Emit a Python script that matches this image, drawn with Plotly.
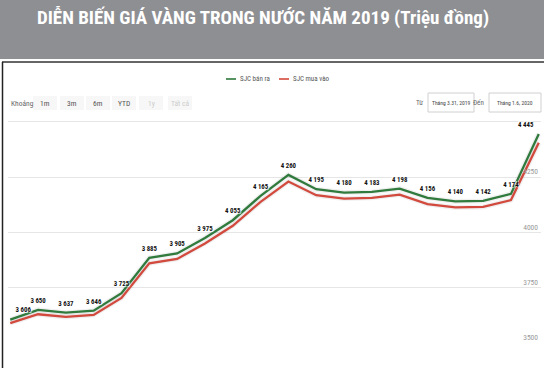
import plotly.graph_objects as go

# ---- data ----
dates = ["2019-03-31", "2019-04-15", "2019-04-30", "2019-05-15", "2019-05-30",
         "2019-06-14", "2019-06-29", "2019-07-14", "2019-07-29", "2019-08-13",
         "2019-08-28", "2019-09-12", "2019-09-27", "2019-10-12", "2019-10-27",
         "2019-11-11", "2019-11-26", "2019-12-11", "2019-12-26", "2020-01-06"]
sell = [3606, 3650, 3637, 3646, 3725, 3885, 3905, 3975, 4055, 4165,
        4260, 4195, 4180, 4183, 4198, 4156, 4140, 4142, 4174, 4445]
buy = [3590, 3630, 3618, 3627, 3704, 3860, 3880, 3950, 4030, 4138,
       4230, 4168, 4153, 4156, 4171, 4128, 4113, 4115, 4146, 4405]
y_ticks = [3500, 3750, 4000, 4250, 4500]
title_text = "DIỄN BIẾN GIÁ VÀNG TRONG NƯỚC NĂM 2019 (Triệu đồng)"
legend_names = ["SJC bán ra", "SJC mua vào"]
range_buttons = ["1m", "3m", "6m", "YTD", "1y", "Tất cả"]
range_active = [True, True, True, True, False, False]
date_from = "Tháng 3.31, 2019"
date_to = "Tháng 1.6, 2020"

GREEN = "#2f7a3c"
RED = "#d2493d"
W, H = 544, 368
L, R, T, B = 8, 541, 120, 343  # plot area in pixels


def px(x):
    return (x - L) / (R - L)


def py(y):
    return (B - y) / (B - T)


def fmt(v):
    return f"{v:,}".replace(",", " ")


narrow = "Liberation Sans Narrow, Roboto Condensed, DejaVu Sans Condensed, Arial"

fig = go.Figure()
# soft shadows
for s in (buy, sell):
    fig.add_trace(go.Scatter(x=dates, y=s, mode="lines",
                             line=dict(color="rgba(0,0,0,0.06)", width=5),
                             hoverinfo="skip", showlegend=False))
fig.add_trace(go.Scatter(x=dates, y=buy, mode="lines", name=legend_names[1],
                         line=dict(color=RED, width=2.3), showlegend=False))
positions = ["top right"] + ["top center"] * (len(sell) - 2) + ["top left"]
fig.add_trace(go.Scatter(x=dates, y=sell, mode="lines+markers+text", name=legend_names[0],
                         line=dict(color=GREEN, width=2.3),
                         marker=dict(size=7, opacity=0),
                         text=[fmt(v) for v in sell], textposition=positions,
                         textfont=dict(family=narrow, size=6.8, color="#111",
                                       weight="bold",
                                       shadow="1px 1px 1px #fff, -1px -1px 1px #fff"),
                         cliponaxis=False, showlegend=False))

shapes = []
annotations = []

# title band
shapes.append(dict(type="rect", xref="paper", yref="paper", x0=px(0), x1=px(W),
                   y0=py(59), y1=py(0), fillcolor="#8e8f93", line=dict(width=0),
                   layer="below"))
annotations.append(dict(text=f"<b>{title_text}</b>", xref="paper", yref="paper",
                        x=px(263), y=py(17), showarrow=False, xanchor="center",
                        yanchor="middle",
                        font=dict(family="Liberation Sans Narrow, Roboto Condensed, Arial",
                                  size=19, color="white")))
# frame lines
shapes.append(dict(type="line", xref="paper", yref="paper", x0=px(2), x1=px(W),
                   y0=py(62), y1=py(62), line=dict(color="#333", width=1.5)))
shapes.append(dict(type="line", xref="paper", yref="paper", x0=px(2.5), x1=px(2.5),
                   y0=py(62), y1=py(H), line=dict(color="#222", width=1.5)))

# legend
leg = [(226, GREEN), (279, RED)]
for (x0, c), name in zip(leg, legend_names):
    shapes.append(dict(type="line", xref="paper", yref="paper", x0=px(x0), x1=px(x0 + 10),
                       y0=py(79), y1=py(79), line=dict(color=c, width=1.6)))
    annotations.append(dict(text=name, xref="paper", yref="paper", x=px(x0 + 12), y=py(79),
                            xanchor="left", yanchor="middle", showarrow=False,
                            font=dict(family=narrow, size=7, color="#555")))

# range selector row
annotations.append(dict(text="Khoảng", xref="paper", yref="paper", x=px(9), y=py(103),
                        xanchor="left", yanchor="middle", showarrow=False,
                        font=dict(family=narrow, size=7.5, color="#666")))
bx = [45, 72, 98, 124, 151, 180]
for cx, lab, act in zip(bx, range_buttons, range_active):
    shapes.append(dict(type="rect", xref="paper", yref="paper", x0=px(cx - 12), x1=px(cx + 12),
                       y0=py(110), y1=py(96), fillcolor="#f7f7f7", line=dict(width=0),
                       layer="below"))
    annotations.append(dict(text=lab, xref="paper", yref="paper", x=px(cx), y=py(103),
                            xanchor="center", yanchor="middle", showarrow=False,
                            font=dict(family=narrow, size=7.5,
                                      color="#555" if act else "#ccc")))

# date inputs
annotations.append(dict(text="Từ", xref="paper", yref="paper", x=px(425), y=py(103),
                        xanchor="right", yanchor="middle", showarrow=False,
                        font=dict(family=narrow, size=7, color="#666")))
annotations.append(dict(text="Đến", xref="paper", yref="paper", x=px(486), y=py(103),
                        xanchor="right", yanchor="middle", showarrow=False,
                        font=dict(family=narrow, size=7, color="#666")))
for (x0, x1), lab in zip([(428, 474), (489, 541)], [date_from, date_to]):
    shapes.append(dict(type="rect", xref="paper", yref="paper", x0=px(x0), x1=px(x1),
                       y0=py(112), y1=py(93), fillcolor="white",
                       line=dict(color="#d0d0d0", width=1)))
    annotations.append(dict(text=lab, xref="paper", yref="paper", x=px((x0 + x1) / 2),
                            y=py(103), xanchor="center", yanchor="middle", showarrow=False,
                            font=dict(family=narrow, size=5.6, color="#444")))

n = len(dates)
fig.update_layout(
    width=W, height=H,
    margin=dict(l=L, r=W - R, t=T, b=H - B, autoexpand=False),
    paper_bgcolor="white", plot_bgcolor="white",
    shapes=shapes, annotations=annotations,
    xaxis=dict(type="category", range=[-0.08, n - 1 + 0.08], showticklabels=False,
               showgrid=False, zeroline=False, showline=False, ticks=""),
    yaxis=dict(range=[3500, 4508], tickvals=y_ticks, side="right",
               ticklabelposition="inside top", showgrid=True, gridcolor="#e6e6e6",
               gridwidth=1, zeroline=False, showline=False, ticks="",
               tickfont=dict(family=narrow, size=7.5, color="#999")),
    showlegend=False,
)

fig.write_html("out.html", config={"displayModeBar": False},
               post_script="document.body.style.margin='0';")
